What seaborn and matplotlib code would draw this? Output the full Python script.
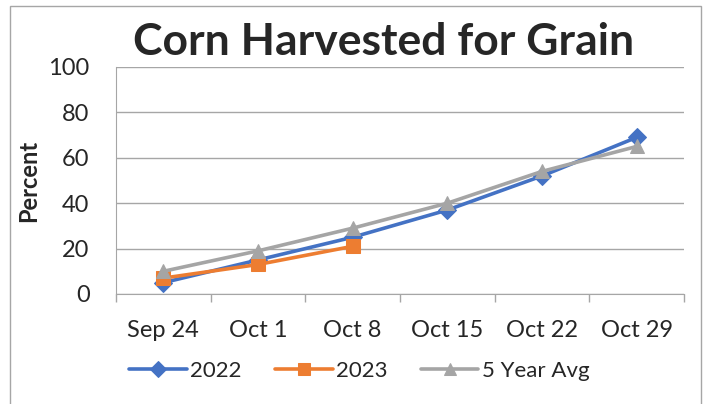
import numpy as np
import pandas as pd
import matplotlib.pyplot as plt
import seaborn as sns
from matplotlib.patches import Rectangle

weeks = ['Sep 24', 'Oct 1', 'Oct 8', 'Oct 15', 'Oct 22', 'Oct 29']
y2022 = [5, 15, 25, 37, 52, 69]
y2023 = [7, 13, 21]
avg5 = [10, 19, 29, 40, 54, 65]
series = ['2022', '2023', '5 Year Avg']
colors = ['#4472C4', '#ED7D31', '#A5A5A5']
markers = ['D', 's', '^']

rows = []
for name, vals in zip(series, [y2022, y2023, avg5]):
    for i, v in enumerate(vals):
        rows.append({'week': weeks[i], 'pos': i, 'value': v, 'series': name})
df = pd.DataFrame(rows)

sns.set_style('white')
plt.rcParams['font.family'] = ['Lato', 'DejaVu Sans']

fig = plt.figure(figsize=(7.05, 4.04), dpi=100)
ax = fig.add_axes([116 / 705, 1 - 294 / 404, (684 - 116) / 705, (294 - 67) / 404])

for name, col, mk in zip(series, colors, markers):
    d = df[df['series'] == name]
    sns.lineplot(data=d, x='pos', y='value', color=col, marker=mk, markersize=9.5,
                 markeredgecolor=col, linewidth=2.6, label=name, ax=ax)

ax.set_xlim(-0.5, 5.5)
ax.set_ylim(0, 100)
ax.set_yticks(range(0, 101, 20))
ax.set_xticks(np.arange(-0.5, 6, 1))
ax.set_xticklabels([])
ax.set_xticks(range(6), minor=True)
ax.set_xticklabels(weeks, minor=True, fontsize=17)
ax.tick_params(axis='x', which='major', length=6, color='#A6A6A6', width=1, bottom=True)
ax.tick_params(axis='x', which='minor', length=0, pad=19)
ax.tick_params(axis='y', length=0, labelsize=17, pad=19)
ax.grid(axis='y', color='#A6A6A6', linewidth=1)
ax.set_axisbelow(True)
for s in ['top', 'right']:
    ax.spines[s].set_visible(False)
for s in ['left', 'bottom']:
    ax.spines[s].set_color('#A6A6A6')
ax.set_xlabel('')
ax.set_ylabel('Percent', fontsize=17, fontweight='bold', labelpad=6)

fig.text(384 / 705, 1 - 42 / 404, 'Corn Harvested for Grain', ha='center', va='center',
         fontsize=32, fontweight='bold')

ax.legend(loc='center', bbox_to_anchor=(0.428, -0.34), ncol=3, frameon=False,
          fontsize=16, handlelength=2.6, columnspacing=1.5, handletextpad=0.15,
          markerscale=0.85)

fig.patches.append(Rectangle((10 / 705, -0.1), 691 / 705, 1.1 - 6 / 404,
                             transform=fig.transFigure, fill=False,
                             edgecolor='#A6A6A6', linewidth=1))

fig.savefig('out.png', dpi=100)
